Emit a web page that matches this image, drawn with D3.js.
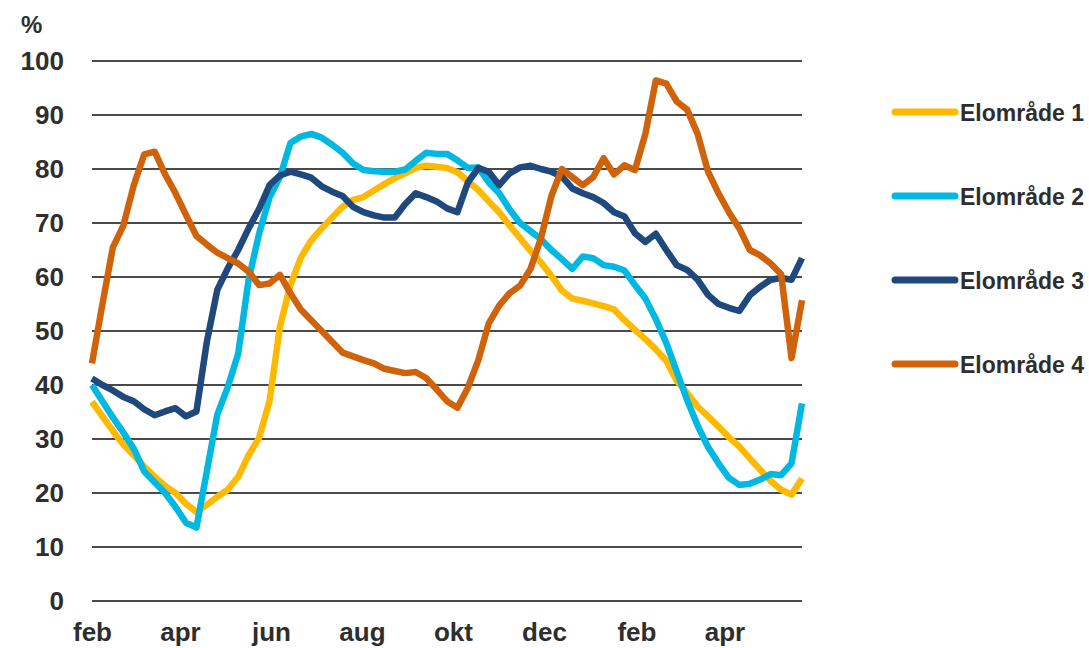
<!DOCTYPE html>
<html>
<head>
<meta charset="utf-8">
<script src="https://cdn.jsdelivr.net/npm/d3@7"></script>
<style>
  html, body { margin: 0; padding: 0; background: #fff; }
  svg { display: block; font-family: "Liberation Sans", Arial, sans-serif; }
</style>
</head>
<body>
<svg id="chart" width="1089" height="648"></svg>
<script>
// Weekly reservoir fill level (%) per bidding zone, week 0 = first week of February

const startDate = new Date(2018, 1, 1);
const weekCount = 69;

const series1 = [36.9, 34.2, 31.5, 29, 27, 24.9, 23, 21.3, 20, 18, 16.5, 17.8, 19.3, 20.6, 23, 27, 30.2, 37,
  50.8, 58.5, 63.6, 66.8, 69, 71, 73, 74.3, 74.8, 76, 77.2, 78.3, 79.2, 80.2, 80.6, 80.4, 80.2, 79.4,
  77.7, 76.1, 74, 72, 69.5, 67.2, 64.8, 62.7, 60.2, 57.5, 56, 55.6, 55.1, 54.6, 54, 52, 50.2, 48.5,
  46.6, 44.5, 40.8, 38.5, 36, 34.2, 32.3, 30.3, 28.6, 26.4, 24.3, 22.2, 20.6, 19.7, 22.7];

const series2 = [40, 37, 34, 31.2, 28.2, 24, 22, 20, 17.4, 14.5, 13.6, 24, 34.5, 39.6, 45.8, 59.5, 68, 74.7,
  78.5, 84.8, 86, 86.5, 85.8, 84.5, 83, 81, 79.8, 79.6, 79.5, 79.5, 79.9, 81.5, 83, 82.8, 82.8, 81.6,
  80.2, 80.3, 77.5, 75.5, 72.5, 70, 68.5, 67, 65, 63.3, 61.5, 63.8, 63.5, 62.2, 61.9, 61.2, 58.5, 56,
  52.2, 47.8, 42.5, 37.2, 32.5, 28.5, 25.5, 22.8, 21.5, 21.7, 22.5, 23.5, 23.3, 25.5, 36.6];

const series3 = [41.2, 40, 39, 37.8, 37, 35.5, 34.4, 35.1, 35.7, 34.2, 35.1, 48, 57.6, 61.6, 65, 69, 72.6, 77,
  78.8, 79.5, 79, 78.4, 76.8, 75.8, 75, 73, 72, 71.4, 71, 71, 73.5, 75.5, 74.8, 74, 72.7, 72,
  77.5, 80.2, 79.5, 77, 79.2, 80.3, 80.6, 80, 79.5, 78.6, 76.4, 75.5, 74.8, 73.7, 72, 71.2, 68.1, 66.5,
  68, 65, 62.2, 61.3, 59.5, 56.7, 55, 54.3, 53.7, 56.6, 58.2, 59.5, 59.8, 59.5, 63.5];

const series4 = [44, 55, 65.5, 69.5, 77, 82.7, 83.2, 79, 75.5, 71.5, 67.6, 66, 64.5, 63.5, 62.5, 61, 58.5, 58.8,
  60.4, 57, 54, 52, 50, 48, 46, 45.3, 44.6, 44, 43, 42.6, 42.2, 42.4, 41.3, 39.2, 37, 35.8,
  39.5, 44.6, 51.4, 54.7, 57, 58.4, 61.5, 67.2, 75, 80, 78.5, 77, 78.5, 82, 79, 80.7, 79.8, 86.5,
  96.4, 95.8, 92.5, 91, 86.5, 79.5, 75.5, 72, 69, 65, 64, 62.5, 60.5, 45, 55.7];

const seriesNames  = ['Elområde 1', 'Elområde 2', 'Elområde 3', 'Elområde 4'];
const seriesColors = ['#FFB900', '#00B8E2', '#1F487C', '#D0620A'];
const monthNames   = ['jan', 'feb', 'mar', 'apr', 'maj', 'jun', 'jul', 'aug', 'sep', 'okt', 'nov', 'dec'];
const yTicks       = [0, 10, 20, 30, 40, 50, 60, 70, 80, 90, 100];

const dates = d3.range(weekCount).map(i => d3.timeDay.offset(startDate, i * 7));
const allSeries = [series1, series2, series3, series4];

// ── Layout ────────────────────────────────────────────────────────────────────

const svg = d3.select('#chart');
const plot = { left: 92, right: 802, top: 61, bottom: 601 };

const x = d3.scaleTime()
  .domain([dates[0], dates[dates.length - 1]])
  .range([plot.left, plot.right]);

const y = d3.scaleLinear()
  .domain([0, 100])
  .range([plot.bottom, plot.top]);

const textColor = '#2e2e2e';

// Gridlines
svg.append('g')
  .selectAll('line')
  .data(yTicks)
  .join('line')
  .attr('x1', plot.left)
  .attr('x2', plot.right)
  .attr('y1', d => y(d))
  .attr('y2', d => y(d))
  .attr('stroke', '#4a4a4a')
  .attr('stroke-width', 2.2);

// Y axis labels
svg.append('g')
  .selectAll('text')
  .data(yTicks)
  .join('text')
  .attr('x', 64)
  .attr('y', d => y(d))
  .attr('dy', '0.36em')
  .attr('text-anchor', 'end')
  .attr('font-size', 26)
  .attr('font-weight', 'bold')
  .attr('fill', textColor)
  .text(d => d);

svg.append('text')
  .attr('x', 21)
  .attr('y', 33)
  .attr('font-size', 24)
  .attr('font-weight', 'bold')
  .attr('fill', textColor)
  .text('%');

// X axis: every other month starting with February
const monthTicks = d3.timeMonth
  .range(startDate, d3.timeDay.offset(dates[dates.length - 1], 1))
  .filter(d => d.getMonth() % 2 === 1);

const xAxis = d3.axisBottom(x)
  .tickValues(monthTicks)
  .tickSize(0)
  .tickPadding(0)
  .tickFormat(d => monthNames[d.getMonth()]);

const xg = svg.append('g')
  .attr('transform', `translate(0,${plot.bottom})`)
  .call(xAxis);
xg.select('.domain').remove();
xg.selectAll('text')
  .attr('y', 40)
  .attr('dy', 0)
  .attr('font-size', 26)
  .attr('font-weight', 'bold')
  .attr('font-family', '"Liberation Sans", Arial, sans-serif')
  .attr('fill', textColor);

// Series lines
const line = d3.line()
  .x((d, i) => x(dates[i]))
  .y(d => y(d));

svg.append('g')
  .selectAll('path')
  .data(allSeries)
  .join('path')
  .attr('d', line)
  .attr('fill', 'none')
  .attr('stroke', (d, i) => seriesColors[i])
  .attr('stroke-width', 6.5)
  .attr('stroke-linejoin', 'round')
  .attr('stroke-linecap', 'butt');

// Legend
const legend = svg.append('g').attr('transform', 'translate(895,112)');
seriesNames.forEach((name, i) => {
  const g = legend.append('g').attr('transform', `translate(0,${i * 84})`);
  g.append('line')
    .attr('x1', 0).attr('x2', 60)
    .attr('stroke', seriesColors[i])
    .attr('stroke-width', 7)
    .attr('stroke-linecap', 'round');
  g.append('text')
    .attr('x', 65)
    .attr('dy', '0.36em')
    .attr('font-size', 24)
    .attr('font-weight', 'bold')
    .attr('fill', textColor)
    .attr('textLength', 124)
    .attr('lengthAdjust', 'spacingAndGlyphs')
    .text(name);
});
</script>
</body>
</html>
